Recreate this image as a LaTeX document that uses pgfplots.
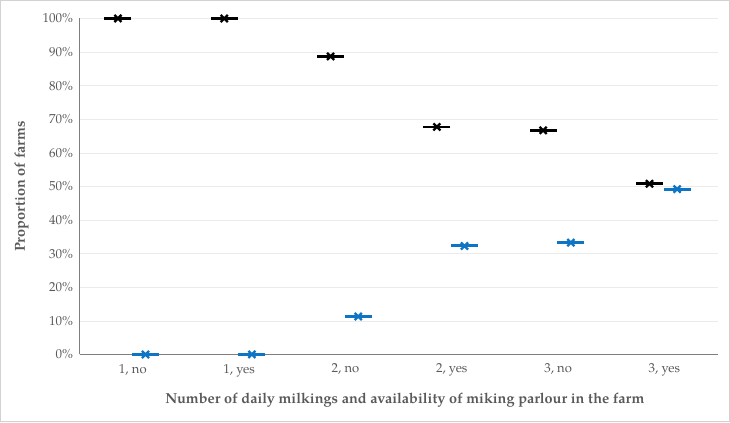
\documentclass[border=0pt]{standalone}
\usepackage{pgfplots}
\pgfplotsset{compat=1.18}
\usepackage{fontspec}
\setmainfont{TeX Gyre Pagella}
\definecolor{tickgray}{HTML}{595959}
\definecolor{gridgray}{HTML}{EBEBEB}
\definecolor{axgray}{HTML}{7F7F7F}
\definecolor{blueS}{HTML}{0E74C4}
\begin{document}
\begin{tikzpicture}
\begin{axis}[
  at={(0,0)}, anchor=south west,
  scale only axis, width=636bp, height=335bp,
  xmin=-0.5, xmax=5.5, ymin=0, ymax=100,
  axis lines*=left,
  axis line style={axgray, line width=0.9pt},
  xtick={0,1,2,3,4,5},
  xticklabels={{1, no},{1, yes},{2, no},{2, yes},{3, no},{3, yes}},
  ytick={0,10,...,100},
  yticklabels={0\%,10\%,20\%,30\%,40\%,50\%,60\%,70\%,80\%,90\%,100\%},
  major tick length=0pt,
  ymajorgrids, grid style={gridgray, line width=0.6pt},
  tick label style={font=\fontsize{13}{15}\selectfont, text=tickgray},
  xticklabel style={yshift=-6bp},
  yticklabel style={xshift=-3bp},
  label style={font=\bfseries\fontsize{14.5}{16}\selectfont, text=tickgray},
  xlabel={Number of daily milkings and availability of miking parlour in the farm},
  ylabel={Proportion of farms},
  xlabel style={at={(axis description cs:0.51,0)}, anchor=center, yshift=-46bp},
  ylabel style={at={(axis description cs:0,0.5)}, anchor=center, yshift=58bp},
  clip=false,
]
% black series (dash + x)
\addplot[only marks, black, mark=-, mark size=13.5bp, mark options={line width=2.9bp}]
  coordinates {(-0.14,100) (0.86,100) (1.86,88.7) (2.86,67.7) (3.86,66.7) (4.86,50.8)};
\addplot[only marks, black, mark=x, mark size=5bp, mark options={line width=2.3bp}]
  coordinates {(-0.14,100) (0.86,100) (1.86,88.7) (2.86,67.7) (3.86,66.7) (4.86,50.8)};
% blue series
\addplot[only marks, blueS, mark=-, mark size=13.5bp, mark options={line width=2.9bp}]
  coordinates {(0.12,0) (1.12,0) (2.12,11.3) (3.12,32.3) (4.12,33.3) (5.12,49.2)};
\addplot[only marks, blueS, mark=x, mark size=5bp, mark options={line width=2.3bp}]
  coordinates {(0.12,0) (1.12,0) (2.12,11.3) (3.12,32.3) (4.12,33.3) (5.12,49.2)};
\end{axis}
\draw[gray!35, line width=0.8bp] (-79bp,-67bp) rectangle (648bp,353bp);
\end{tikzpicture}
\end{document}
